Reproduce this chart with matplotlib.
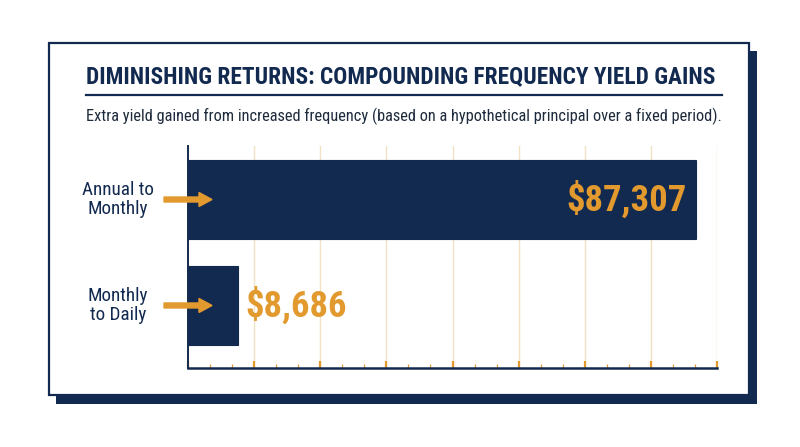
import matplotlib
matplotlib.use('Agg')
import matplotlib.pyplot as plt
from matplotlib.patches import Rectangle, FancyArrow
from matplotlib.ticker import MultipleLocator
from matplotlib.lines import Line2D

plt.rcParams['font.family'] = ['Roboto Condensed', 'DejaVu Sans']

NAVY = '#132a50'
GOLD = '#e29a2f'
GRID = '#f1e2c6'

# data
categories = ['Annual to\nMonthly', 'Monthly\nto Daily']
gains = [87307, 8686]
value_labels = ['$87,307', '$8,686']
x_max = 91000

fig = plt.figure(figsize=(8, 4.47), dpi=100)
W, H = 800, 447


def fx(px):
    return px / W


def fy(py):
    return 1 - py / H


# card shadow + card
fig.patches.append(Rectangle((fx(56), fy(404)), fx(757) - fx(56), fy(51) - fy(404),
                             transform=fig.transFigure, facecolor=NAVY, edgecolor='none', zorder=0))
fig.patches.append(Rectangle((fx(49), fy(395)), fx(749) - fx(49), fy(43) - fy(395),
                             transform=fig.transFigure, facecolor='white', edgecolor=NAVY,
                             linewidth=1.6, zorder=1))

# title, rule, subtitle
fig.text(fx(86), fy(77), 'DIMINISHING RETURNS: COMPOUNDING FREQUENCY YIELD GAINS',
         fontsize=16.8, fontweight='bold', color=NAVY, va='center', ha='left', zorder=3)
fig.add_artist(Line2D([fx(86), fx(722)], [fy(95), fy(95)], color=NAVY, linewidth=1.6,
                      transform=fig.transFigure, zorder=3))
fig.text(fx(86), fy(116), 'Extra yield gained from increased frequency (based on a hypothetical principal over a fixed period).',
         fontsize=11.8, color='#1e2b3c', va='center', ha='left', zorder=3)

ax = fig.add_axes([fx(188), fy(368), fx(717) - fx(188), fy(146) - fy(368)], zorder=2)
ax.patch.set_alpha(0)

y_pos = list(range(len(categories)))
ax.barh(y_pos, gains, height=0.745, color=NAVY, edgecolor=NAVY, linewidth=0.8, zorder=2)
ax.set_xlim(0, x_max)
ax.set_ylim(1.59, -0.505)

ax.xaxis.set_major_locator(MultipleLocator(x_max / 8))
ax.xaxis.set_minor_locator(MultipleLocator(x_max / 24))
ax.grid(axis='x', which='major', color=GRID, linewidth=1.0, zorder=0)
ax.set_axisbelow(True)
ax.tick_params(axis='x', which='major', direction='in', length=5, width=1.6, color=GOLD,
               labelbottom=False)
ax.tick_params(axis='x', which='minor', direction='in', length=3, width=0.9, color=GOLD)
ax.set_yticks([])

for s in ['top', 'right']:
    ax.spines[s].set_visible(False)
ax.spines['bottom'].set_color(NAVY)
ax.spines['bottom'].set_linewidth(1.8)
ax.spines['left'].set_color(NAVY)
ax.spines['left'].set_linewidth(1.4)

# value labels
ax.text(gains[0] - x_max * 0.017, y_pos[0], value_labels[0], ha='right', va='center',
        fontsize=26.5, fontweight='bold', color=GOLD, zorder=4)
ax.text(gains[1] + x_max * 0.013, y_pos[1], value_labels[1], ha='left', va='center',
        fontsize=26.5, fontweight='bold', color=GOLD, zorder=4)

# category labels + arrows
for y, lab in zip(y_pos, categories):
    py = ax.transData.transform((0, y))[1]
    yfig = py / (H)
    fig.text(fx(118), yfig, lab, ha='center', va='center', fontsize=13.8,
             color=NAVY, linespacing=1.05, zorder=3)
    fig.add_artist(FancyArrow(fx(164), yfig, fx(212) - fx(164), 0, width=5 / H,
                              head_width=14 / H, head_length=13 / W,
                              length_includes_head=True, color=GOLD,
                              transform=fig.transFigure, zorder=5))

fig.savefig('out.png', dpi=100)
